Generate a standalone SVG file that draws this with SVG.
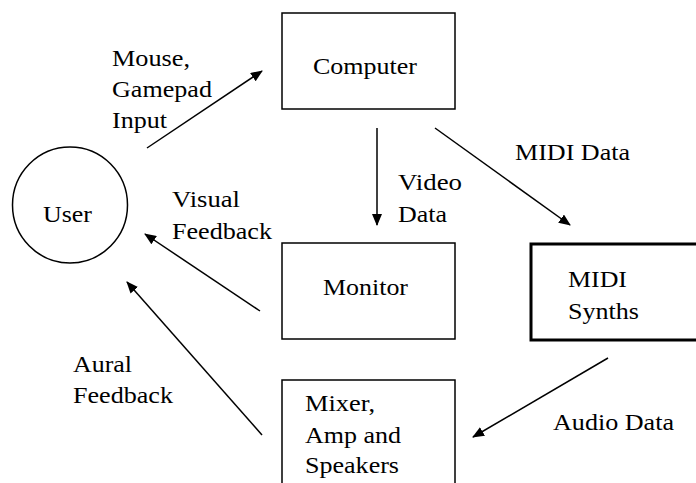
<svg xmlns="http://www.w3.org/2000/svg" width="696" height="483" viewBox="0 0 696 483">
<defs>
<style>
text{font-family:"Liberation Serif","DejaVu Serif",serif;font-size:24px;fill:#000}
.box{fill:#fff;stroke:#000;stroke-width:1.5}
.thick{stroke-width:3}
.edge{stroke:#000;stroke-width:1.5;fill:none;marker-end:url(#ah)}
</style>
<marker id="ah" viewBox="0 0 12 10" refX="11" refY="5" markerWidth="12" markerHeight="10" markerUnits="userSpaceOnUse" orient="auto">
<path d="M0,0 L12,5 L0,10 Z" fill="#000"/>
</marker>
</defs>
<rect width="696" height="483" fill="#fff"/>
<g id="user"><ellipse cx="70" cy="205" rx="57.5" ry="58" fill="#fff" stroke="#000" stroke-width="1.5"/><text x="43" y="222" textLength="49" lengthAdjust="spacingAndGlyphs">User</text></g>
<g id="computer"><rect class="box" x="282" y="13" width="173" height="96"/><text x="313" y="74" textLength="104" lengthAdjust="spacingAndGlyphs">Computer</text></g>
<g id="monitor"><rect class="box" x="282" y="243" width="173" height="96"/><text x="323" y="295" textLength="85" lengthAdjust="spacingAndGlyphs">Monitor</text></g>
<g id="synths"><rect class="box thick" x="531" y="244" width="170" height="96"/><text x="568" y="287" textLength="59" lengthAdjust="spacingAndGlyphs">MIDI</text><text x="568" y="319" textLength="71" lengthAdjust="spacingAndGlyphs">Synths</text></g>
<g id="mixer"><rect class="box" x="282" y="380" width="173" height="110"/><text x="305" y="411" textLength="70" lengthAdjust="spacingAndGlyphs">Mixer,</text><text x="305" y="443" textLength="96" lengthAdjust="spacingAndGlyphs">Amp and</text><text x="305" y="473" textLength="94" lengthAdjust="spacingAndGlyphs">Speakers</text></g>
<g id="connectors">
<line class="edge" x1="147" y1="148" x2="262" y2="71"/>
<line class="edge" x1="377" y1="128" x2="377" y2="225"/>
<line class="edge" x1="435" y1="128" x2="570" y2="225"/>
<line class="edge" x1="260" y1="311" x2="145" y2="234"/>
<line class="edge" x1="262" y1="435" x2="127" y2="282"/>
<line class="edge" x1="608" y1="358" x2="473" y2="437"/>
</g>
<g id="labels">
<text x="112" y="66" textLength="78" lengthAdjust="spacingAndGlyphs">Mouse,</text>
<text x="112" y="97" textLength="100" lengthAdjust="spacingAndGlyphs">Gamepad</text>
<text x="112" y="128" textLength="55" lengthAdjust="spacingAndGlyphs">Input</text>
<text x="398" y="190" textLength="64" lengthAdjust="spacingAndGlyphs">Video</text>
<text x="398" y="222" textLength="49" lengthAdjust="spacingAndGlyphs">Data</text>
<text x="515" y="160" textLength="115" lengthAdjust="spacingAndGlyphs">MIDI Data</text>
<text x="172" y="207" textLength="68" lengthAdjust="spacingAndGlyphs">Visual</text>
<text x="172" y="239" textLength="100" lengthAdjust="spacingAndGlyphs">Feedback</text>
<text x="73" y="372" textLength="59" lengthAdjust="spacingAndGlyphs">Aural</text>
<text x="73" y="403" textLength="100" lengthAdjust="spacingAndGlyphs">Feedback</text>
<text x="553" y="430" textLength="121" lengthAdjust="spacingAndGlyphs">Audio Data</text>
</g>
</svg>
